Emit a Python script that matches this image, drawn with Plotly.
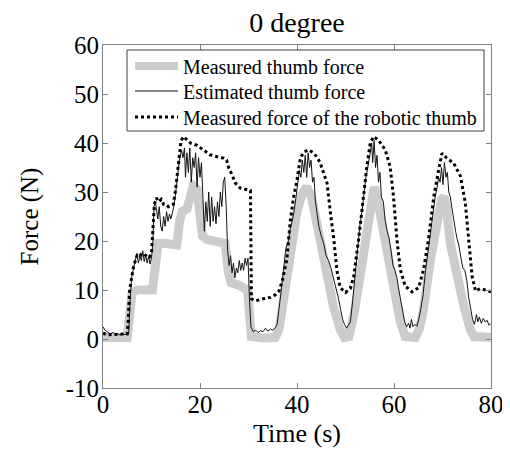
import plotly.graph_objects as go

# ---- Data ----
t_meas = [0, 5.0, 5.5, 6.0, 7.0, 10.2, 10.8, 11.4, 13.0, 14.5, 15.2, 15.8, 16.3, 17.3, 18.0, 18.6, 19.4,
          20.0, 20.5, 21.5, 24.0, 25.2, 25.8, 26.4, 28.0, 29.8, 30.2, 30.6, 33.0, 35.5, 36.3, 37.2,
          38.6, 40.0, 41.0, 42.0, 43.0, 44.0, 44.8, 46.2, 47.5, 48.9, 49.8, 50.7, 51.7, 53.0, 54.4,
          55.3, 55.9, 56.5, 57.2, 58.6, 59.9, 61.3, 62.3, 64.4, 65.2, 66.1, 67.5, 68.9, 69.8, 70.3,
          70.8, 71.6, 73.0, 74.4, 75.7, 76.5, 80.0]
f_meas = [0.3, 0.3, 5, 9.5, 10, 10, 15, 19.5, 19.5, 19, 19.2, 24, 26, 26.5, 30, 31.2, 30.5,
          26, 21, 20.3, 20, 19.5, 14, 11.5, 11, 10, 5, 0.5, 0.2, 0.3, 2, 8,
          18, 26, 29.5, 31, 29, 24, 19.6, 12.8, 6.7, 2, 0.3, 0.5, 4.7, 12.8, 21.7,
          28.5, 31, 29, 25, 19, 11, 3.5, 0.5, 0.3, 2, 6.1, 16.2, 25, 28.5, 29,
          27, 19.6, 12.8, 6.7, 2, 0.5, 0.3]

t_est = [0, 0.4, 0.8, 1.2, 1.6, 2.0, 2.5, 3.0, 3.5, 4.0, 4.5, 5.0, 5.3,
         5.6, 5.9, 6.3, 6.7, 7.0, 7.3, 7.6, 7.9, 8.2, 8.5, 8.8, 9.1, 9.4, 9.7, 10.0, 10.3,
         10.5, 10.8, 11.1, 11.3, 11.6, 11.9, 12.2, 12.5, 12.8, 13.1, 13.4, 13.7, 14.0, 14.3, 14.6,
         15.0, 15.4, 15.8, 16.2, 16.5, 16.8, 17.0, 17.3, 17.6, 17.9, 18.2, 18.5, 18.8, 19.1, 19.4,
         19.7, 20.0, 20.3, 20.6, 20.9, 21.2, 21.5, 21.8, 22.1, 22.4, 22.7, 23.0, 23.3, 23.6, 23.9,
         24.2, 24.5, 24.8, 25.1, 25.4, 25.7, 26.0, 26.3, 26.6, 26.9, 27.2, 27.5, 27.8, 28.1, 28.4,
         28.7, 29.0, 29.3, 29.6, 29.9, 30.2, 30.5, 31.0, 31.5, 32.0, 32.5, 33.0, 33.5, 34.0, 34.5,
         35.0, 35.5, 35.9, 36.3, 36.7, 37.2, 37.7, 38.2, 38.6, 39.0, 39.4, 39.8, 40.2, 40.5, 40.8,
         41.1, 41.4, 41.7, 42.0, 42.3, 42.6, 42.9, 43.2, 43.5, 43.8, 44.1, 44.5, 45.0, 45.5, 46.0,
         46.5, 47.0, 47.5, 48.0, 48.5, 49.0, 49.4, 49.8, 50.2, 50.6, 51.0, 51.4, 51.8, 52.2, 52.6,
         53.0, 53.4, 53.8, 54.2, 54.5, 54.8, 55.1, 55.4, 55.6, 55.9, 56.2, 56.5, 56.8, 57.1, 57.4,
         57.8, 58.2, 58.6, 59.0, 59.4, 59.8, 60.2, 60.6, 61.0, 61.4, 61.8, 62.2, 62.6, 63.0, 63.3,
         63.6, 63.9, 64.3, 64.7, 65.1, 65.5, 66.0, 66.5, 67.0, 67.5, 68.0, 68.5, 68.9, 69.2, 69.5,
         69.8, 70.1, 70.4, 70.7, 71.0, 71.3, 71.6, 71.9, 72.3, 72.7, 73.0, 73.4, 73.8, 74.2, 74.6,
         75.0, 75.4, 75.8, 76.2, 76.6, 77.0, 77.3, 77.6, 78.0, 78.4, 78.8, 79.2, 79.6, 80.0]
f_est = [2.5, 1.8, 1.5, 1.2, 1.0, 1.4, 0.9, 1.1, 0.8, 1.0, 0.9, 1.0, 1.2,
         8, 12.5, 14.5, 16, 17.5, 15.5, 17, 16, 18, 15.8, 17.2, 15.5, 16.8, 15.3, 16.5, 20,
         27, 28, 26, 24.5, 27, 23, 22, 25, 23, 26, 24, 25.5, 24.5, 26, 27,
         30, 34, 37, 38.5, 37, 39, 33, 38, 34, 39, 32, 37, 35, 38, 31,
         37, 33, 36, 28, 22, 28, 24, 30, 23, 29, 24, 27, 23.5, 28, 25,
         30, 27, 32, 33, 27, 18, 15, 17, 13.5, 15.5, 12.5, 14.5, 13.5, 16, 14,
         15.5, 14, 16.5, 15, 16.5, 8, 2.5, 1.5, 1.8, 1.3, 1.7, 1.5, 2.2, 1.6, 2.0,
         1.8, 2.3, 3, 6, 9.5, 14, 18.5, 20, 22.5, 24, 26, 29, 32, 34.5, 33,
         36.5, 34, 37.5, 33, 38, 35, 36.5, 32, 33, 28, 25.5, 23, 21, 19.5, 17,
         16, 14.5, 12.5, 11, 8.5, 6, 4, 3, 2.2, 2.8, 3.5, 7, 11, 15, 20,
         23.5, 26, 30, 33, 34.5, 36, 38, 40, 36, 40.5, 35, 37.5, 32, 34, 29,
         28, 24, 22, 20.5, 18, 15, 14, 12.5, 10, 8, 6, 3.5, 2.5, 3.2, 2.2,
         4, 2.5, 3, 2.6, 4, 6, 9, 14, 18, 21, 25.5, 29, 31, 33, 32,
         35, 31.5, 36, 33, 34, 30, 29, 27, 24, 22, 20.5, 19, 16.5, 14.5, 14,
         12, 8.5, 6, 4, 3, 5, 3.5, 4.5, 3.2, 4.2, 3.5, 3.8, 2.8, 3.2]

t_rob = [0, 1, 2, 3, 4, 5.0, 5.2, 5.5, 5.9, 6.3, 7.0, 7.5, 8.0, 8.5, 9.0, 9.6, 10.0, 10.3, 10.6,
         11.0, 11.5, 12.0, 12.5, 13.0, 13.5, 14.0, 14.5, 14.9, 15.3, 15.7, 16.1, 16.6, 17.4, 18.0,
         19.4, 20.7, 22.1, 23.5, 24.9, 25.5, 25.9, 26.6, 27.3, 28.3, 29.7, 30.4, 30.6, 31.5, 33.0,
         34.5, 35.5, 36.3, 37.0, 37.9, 38.6, 39.3, 40.0, 40.7, 41.5, 42.4, 43.4, 44.2, 44.8, 45.5,
         46.2, 46.9, 47.6, 48.2, 48.9, 50.0, 51.0, 51.7, 52.7, 53.7, 54.4, 55.1, 55.8, 56.8, 58.2,
         59.2, 59.9, 60.6, 61.3, 62.3, 63.7, 65.1, 66.1, 67.1, 68.2, 69.2, 69.9, 70.9, 72.3, 73.7,
         74.7, 75.4, 76.1, 76.8, 77.8, 79.2, 80.0]
f_rob = [1.2, 0.8, 1.0, 0.9, 1.0, 1.0, 4, 10, 12.5, 14.8, 17, 17.5, 17, 16.8, 17.3, 16.8, 17.5, 22, 27.5,
         28.8, 28, 28.5, 27.5, 27.5, 27, 27.2, 27.5, 30, 34, 38, 40.5, 41.3, 40.5, 40,
         39.5, 38.6, 37.6, 37.2, 36.9, 36.5, 35, 33.5, 31.8, 30.8, 30.5, 30.3, 8.2, 7.8, 8.2,
         8.5, 9, 9.8, 12, 16.2, 24, 29, 32.5, 37, 38.2, 38.6, 38, 37, 35.9, 34,
         31.8, 25.7, 20.3, 14.2, 10.5, 9.5, 10.3, 12.8, 20.3, 29, 35.2, 40, 41.3, 40.6, 38.6,
         35.2, 29, 20.3, 14.2, 10.8, 9.6, 10.5, 14.2, 20.3, 29, 34.5, 37.9, 36.9, 35.9, 33.2,
         27.8, 20.3, 12.8, 9.8, 10.3, 9.9, 9.6]

x_ticks = [0, 20, 40, 60, 80]
y_ticks = [-10, 0, 10, 20, 30, 40, 50, 60]
y_tick_labels = ["-10", "0", "10", "20", "30", "40", "50", "60"]
names = ["Measured thumb force", "Estimated thumb force", "Measured force of the robotic thumb"]
title_text = "0 degree"
x_title = "Time (s)"
y_title = "Force (N)"

FONT = "Liberation Serif, Times New Roman, serif"
OFF = 8  # page body margin in the browser
W, H = 510 - OFF, 450 - OFF
ML, MR, MT, MB = 103 - OFF, 19, 45 - OFF, 62
PW, PH = W - ML - MR, H - MT - MB


def px_x(p):  # screen pixel -> paper x
    return (p - OFF - ML) / PW


def px_y(p):  # screen pixel -> paper y
    return (H - MB - (p - OFF)) / PH


styles = [dict(color="rgb(204,204,204)", width=9),
          dict(color="rgb(20,20,20)", width=1),
          dict(color="black", width=3, dash="3px,3px")]
xs = [t_meas, t_est, t_rob]
ys = [f_meas, f_est, f_rob]

fig = go.Figure()
for x, y, nm, st in zip(xs, ys, names, styles):
    fig.add_trace(go.Scatter(x=x, y=y, mode="lines", name=nm, line=st, showlegend=False))

axis_common = dict(showline=True, linecolor="rgb(128,128,128)", linewidth=1, mirror="ticks",
                   ticks="inside", ticklen=5, tickcolor="rgb(128,128,128)", showgrid=False,
                   zeroline=False, automargin=False,
                   tickfont=dict(family=FONT, size=25, color="black"))

# manual legend (box, samples, labels)
shapes = [dict(type="rect", xref="paper", yref="paper", x0=px_x(127), x1=px_x(484),
               y0=px_y(131), y1=px_y(50), line=dict(color="rgb(64,64,64)", width=1),
               fillcolor="white", layer="above")]
annotations = []
row_y = [66, 91, 117]
for nm, st, ry in zip(names, styles, row_y):
    ln = dict(color=st["color"], width=min(st["width"], 8))
    if "dash" in st:
        ln["dash"] = st["dash"]
    shapes.append(dict(type="line", xref="paper", yref="paper", x0=px_x(135), x1=px_x(178),
                       y0=px_y(ry), y1=px_y(ry), line=ln, layer="above"))
    annotations.append(dict(text=nm, xref="paper", yref="paper", x=px_x(181), y=px_y(ry + 1),
                            xanchor="left", yanchor="middle", showarrow=False,
                            font=dict(family=FONT, size=20, color="black")))

fig.update_layout(
    width=W, height=H,
    margin=dict(l=ML, r=MR, t=MT, b=MB),
    paper_bgcolor="white", plot_bgcolor="white",
    font=dict(family=FONT, color="black"),
    title=dict(text=title_text, x=0.5, xref="paper", y=1 - 14 / H, yref="container",
               xanchor="center", yanchor="middle", font=dict(family=FONT, size=28, color="black")),
    xaxis=dict(range=[0, 80], tickvals=x_ticks, ticklabelstandoff=-6,
               title=dict(text=x_title, standoff=6, font=dict(family=FONT, size=26)), **axis_common),
    yaxis=dict(range=[-10, 60], tickvals=y_ticks, ticktext=y_tick_labels, ticklabelstandoff=-2,
               title=dict(text=y_title, standoff=19, font=dict(family=FONT, size=25)), **axis_common),
    shapes=shapes, annotations=annotations,
    showlegend=False,
)

fig.write_html("out.html")
